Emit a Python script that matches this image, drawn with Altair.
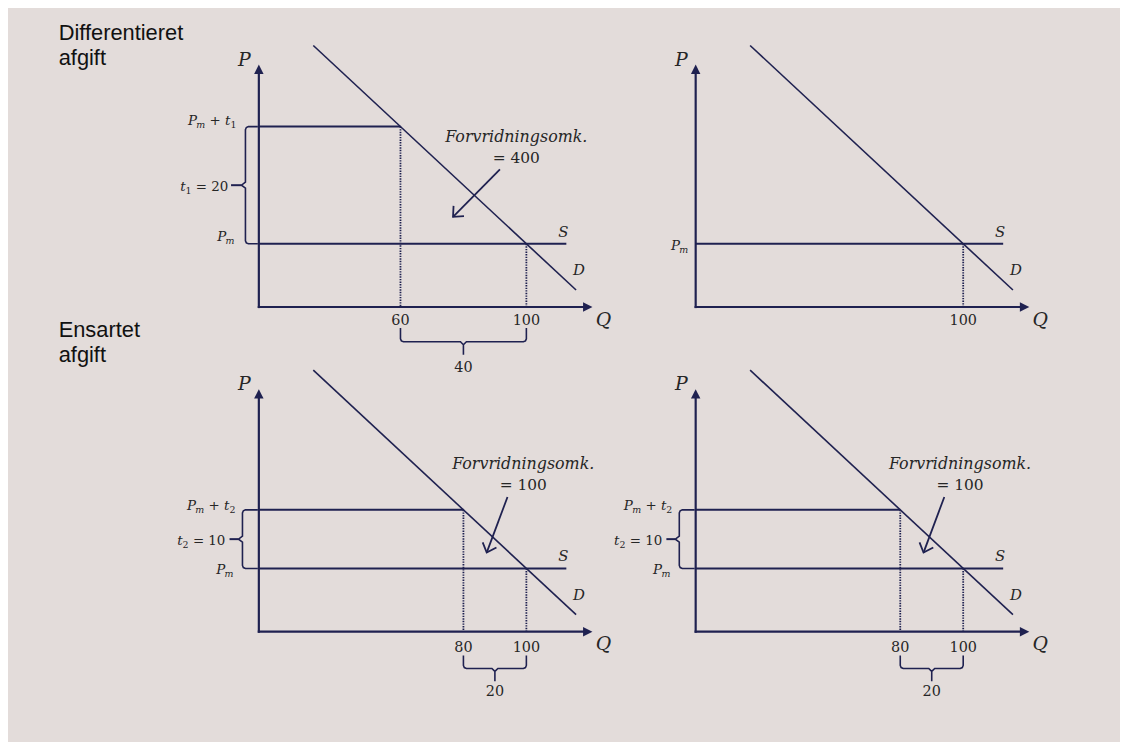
import math
import altair as alt
import pandas as pd

# ---------------- values (conceptual units) ----------------
row_titles = [["Differentieret", "afgift"], ["Ensartet", "afgift"]]
title_anchor = [[-48.6, 74.7], [-48.6, 79.45]]      # (Q, P) of the first title line
tax_subscripts = ["1", "2"]                            # t1, t2
tax_values = [20, 10]                                  # size of the tax
tax_quantities = [60, 80]                              # Q demanded at Pm + t
equilibrium_q = 100                                    # Q demanded at Pm
world_price = 40                                       # Pm
distortion_costs = [400, 100]
demand_q = [32.3, 115.8]
demand_p = [73.85, 32.1]
origin = [15, 29.2]                                    # where the two axes meet
axis_tips = [121, 70.6]                                # tip of Q arrow, tip of P arrow
supply_end_q = 112.7
note_anchor = [[96.8, 58.2], [99.0, 57.8]]             # centre of "Forvridningsomk."
arrow_from = [[91.6, 52.7], [94.0, 52.2]]
arrow_to = [[76.7, 44.6], [87.4, 42.7]]

# ---------------- styling / layout ----------------
K_Q, K_P = 3.17, 5.9            # px per unit on each scale
COL_W = [640, 480]
ROW_H = [327, 407]
X_LO = [-64.7, -1.6]
P_TOP = 79.8
LINE = "#1f2150"
INK = "#262626"
BG = "#e3dcda"
SERIF = "DejaVu Serif"
SANS = "Liberation Sans"
MAIN, SUB = 13.5, 9.5           # font sizes of the small math labels
CHAR_W = {"P": 0.62, "m": 0.95, "t": 0.40, "+": 0.84, " ": 0.32, "=": 0.84,
          "0": 0.64, "1": 0.64, "2": 0.64}

ROW_STYLE = [
    dict(vbar=-13.5, vcusp=-17.5, tick_from=-28, tlab_dx=-30.5, tlab_dy=1,
         pmt_dx=-22.5, pmt_dy=-6, pm_dx=-24.5, pm_dy=-7.5,
         hb=(21, 35, 48), hb_lab=61, qtick_dy=14, q_dy=13),
    dict(vbar=-16.5, vcusp=-20.5, tick_from=-29.5, tlab_dx=-33.5, tlab_dy=1.5,
         pmt_dx=-23.5, pmt_dy=-5, pm_dx=-25.5, pm_dy=1,
         hb=(24, 37, 50), hb_lab=61, qtick_dy=16, q_dy=12),
]


def qpx(q, dx):
    return q + dx / K_Q


def ppx(p, dy):  # dy > 0 means further down on screen
    return p - dy / K_P


def text_width(s, size):
    return sum(CHAR_W.get(c, 0.6) for c in s) * size


def panel(ci, ri, tax, with_title):
    xs = alt.Scale(domain=[X_LO[ci], X_LO[ci] + COL_W[ci] / K_Q], nice=False, zero=False)
    ys = alt.Scale(domain=[P_TOP - ROW_H[ri] / K_P, P_TOP], nice=False, zero=False)
    st = ROW_STYLE[ri]
    q0, p0 = origin
    qt, pt = axis_tips
    pm = world_price

    def X():
        return alt.X("q:Q", scale=xs, axis=None)

    def Y():
        return alt.Y("p:Q", scale=ys, axis=None)

    def rules(rows, **kw):
        df = pd.DataFrame(rows, columns=["q", "p", "q2", "p2"])
        return alt.Chart(df).mark_rule(color=LINE, **kw).encode(x=X(), y=Y(), x2="q2:Q", y2="p2:Q")

    def texts(rows, **kw):
        df = pd.DataFrame(rows, columns=["q", "p", "t"])
        return alt.Chart(df).mark_text(**kw).encode(x=X(), y=Y(), text="t:N")

    def path(points, **kw):
        df = pd.DataFrame(points, columns=["q", "p"])
        df["i"] = range(len(df))
        return alt.Chart(df).mark_line(color=LINE, **kw).encode(x=X(), y=Y(), order="i:Q")

    def heads(rows, shape, filled, size, **kw):
        df = pd.DataFrame(rows, columns=["q", "p", "a"])
        return alt.Chart(df).mark_point(shape=shape, filled=filled, size=size, color=LINE,
                                        opacity=1, **kw).encode(
            x=X(), y=Y(), angle=alt.Angle("a:Q", scale=None))

    math_it = dict(font=SERIF, fontStyle="italic", color=INK)
    math_up = dict(font=SERIF, color=INK)

    # composed math labels (main text + subscripts), right aligned at an anchor
    runs = {"it": [], "up": [], "sit": [], "sup": []}

    def math_label(q, p, dx_right, dy_center, parts):
        total = sum(text_width(t, SUB if k.startswith("s") else MAIN) for t, k in parts)
        x = dx_right - total
        base = dy_center + 0.36 * MAIN
        for t, k in parts:
            sub = k.startswith("s")
            size = SUB if sub else MAIN
            lead = text_width(t[:len(t) - len(t.lstrip())], size)
            runs[k].append([qpx(q, x + lead), ppx(p, base + (3 if sub else 0)), t.strip()])
            x += text_width(t, size)

    L = []
    # axes with arrowheads
    L.append(rules([[q0, p0, qpx(qt, -5), p0], [q0, p0, q0, ppx(pt, 5)]],
                   strokeWidth=2.2, strokeCap="square"))
    L.append(heads([[qt, p0, 90], [q0, pt, 0]], "M0,0L0.5,1L-0.5,1Z", True, 361))
    L.append(texts([[qpx(q0, -14.5), ppx(pt, -5), "P"]], fontSize=19, **math_it))
    L.append(texts([[qpx(qt, 11), ppx(p0, st["q_dy"]), "Q"]], fontSize=19, **math_it))

    # supply and demand
    L.append(rules([[q0, pm, supply_end_q, pm]], strokeWidth=2))
    L.append(rules([[demand_q[0], demand_p[0], demand_q[1], demand_p[1]]], strokeWidth=1.6))
    L.append(texts([[qpx(supply_end_q, -3), ppx(pm, -12), "S"],
                    [qpx(demand_q[1], 3), ppx(demand_p[1], -20), "D"]], fontSize=15, **math_it))

    # equilibrium quantity
    dotted = [[equilibrium_q, pm, equilibrium_q, p0]]
    qlabels = [[equilibrium_q, ppx(p0, st["qtick_dy"]), str(equilibrium_q)]]

    if tax is None:
        math_label(q0, pm, -7.5, 1.5, [("P", "it"), ("m", "sit")])
    else:
        tv, tq = tax_values[tax], tax_quantities[tax]
        ptax = pm + tv
        pmid = (pm + ptax) / 2
        L.append(rules([[q0, ptax, tq, ptax]], strokeWidth=2))
        dotted.append([tq, ptax, tq, p0])
        qlabels.append([tq, ppx(p0, st["qtick_dy"]), str(tq)])

        # vertical brace left of the P axis
        bar, cusp, r = st["vbar"], st["vcusp"], 3
        vb = [(qpx(q0, -1), ptax), (qpx(q0, bar + r), ptax), (qpx(q0, bar + 0.9), ppx(ptax, 0.9)),
              (qpx(q0, bar), ppx(ptax, r)), (qpx(q0, bar), ppx(pmid, -r)), (qpx(q0, cusp), pmid),
              (qpx(q0, bar), ppx(pmid, r)), (qpx(q0, bar), ppx(pm, -r)),
              (qpx(q0, bar + 0.9), ppx(pm, -0.9)), (qpx(q0, bar + r), pm), (qpx(q0, -1), pm)]
        L.append(path(vb, strokeWidth=1.6))
        L.append(rules([[qpx(q0, st["tick_from"]), pmid, qpx(q0, cusp), pmid]], strokeWidth=2))

        # price labels
        sub = tax_subscripts[tax]
        math_label(q0, ptax, st["pmt_dx"], st["pmt_dy"],
                   [("P", "it"), ("m", "sit"), (" + ", "up"), ("t", "it"), (sub, "sup")])
        math_label(q0, pm, st["pm_dx"], st["pm_dy"], [("P", "it"), ("m", "sit")])
        math_label(q0, pmid, st["tlab_dx"], st["tlab_dy"],
                   [("t", "it"), (sub, "sup"), (" = " + str(tv), "up")])

        # horizontal brace below the Q axis
        ye, yb, yc = st["hb"]
        qa, qb = tq, equilibrium_q
        qm = (qa + qb) / 2
        hb = [(qa, ppx(p0, ye)), (qa, ppx(p0, yb - r)), (qpx(qa, 0.9), ppx(p0, yb - 0.9)),
              (qpx(qa, r), ppx(p0, yb)), (qpx(qm, -r), ppx(p0, yb)), (qm, ppx(p0, yb + r)),
              (qm, ppx(p0, yc)), (qm, ppx(p0, yb + r)), (qpx(qm, r), ppx(p0, yb)),
              (qpx(qb, -r), ppx(p0, yb)), (qpx(qb, -0.9), ppx(p0, yb - 0.9)),
              (qb, ppx(p0, yb - r)), (qb, ppx(p0, ye))]
        L.append(path(hb, strokeWidth=1.6))
        L.append(texts([[qm, ppx(p0, st["hb_lab"]), str(qb - qa)]], fontSize=14.5, **math_up))

        # distortion-cost annotation
        nq, npp = note_anchor[ri]
        L.append(texts([[nq, npp, "Forvridningsomk."]], fontSize=16, **math_it))
        L.append(texts([[nq, ppx(npp, 21), "= " + str(distortion_costs[ri])]], fontSize=15.5, **math_up))
        fq, fp = arrow_from[ri]
        tq2, tp2 = arrow_to[ri]
        L.append(rules([[fq, fp, tq2, tp2]], strokeWidth=1.8))
        dxp = (tq2 - fq) * K_Q
        dyp = -(tp2 - fp) * K_P
        ang = math.degrees(math.atan2(dxp, -dyp)) % 360
        L.append(heads([[tq2, tp2, ang]], "M-0.9,1L0,0L0.9,1", False, 270, strokeWidth=1.8))

    L.append(rules(dotted, strokeWidth=1.8, strokeDash=[1.4, 1.2]))
    L.append(texts(qlabels, fontSize=14.5, **math_up))

    # composed small labels
    styles = {"it": dict(fontSize=MAIN, **math_it), "up": dict(fontSize=MAIN, **math_up),
              "sit": dict(fontSize=SUB, **math_it), "sup": dict(fontSize=SUB, **math_up)}
    for k, rows in runs.items():
        if rows:
            L.append(texts(rows, align="left", baseline="alphabetic", **styles[k]))

    if with_title:
        tq_, tp_ = title_anchor[ri]
        L.append(texts([[tq_, tp_, row_titles[ri][0]], [tq_, ppx(tp_, 25), row_titles[ri][1]]],
                       font=SANS, fontSize=22, align="left", baseline="alphabetic", color="#111111"))

    return alt.layer(*L).properties(width=COL_W[ci], height=ROW_H[ri])


chart = (
    alt.concat(
        panel(0, 0, 0, True), panel(1, 0, None, False),
        panel(0, 1, 1, True), panel(1, 1, 1, False),
        columns=2, spacing=0, bounds="flush",
    )
    .properties(background=BG, padding=0)
    .configure_view(strokeWidth=0)
)

chart.save("out.html", embed_options={"renderer": "svg", "actions": False})
